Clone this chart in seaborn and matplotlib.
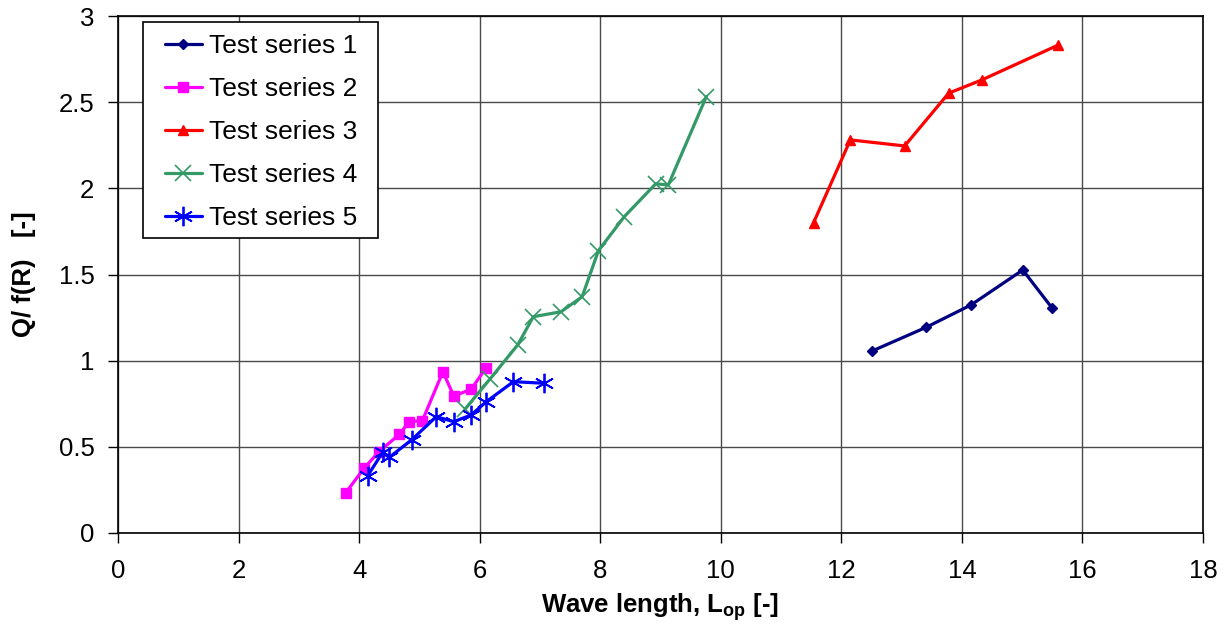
import matplotlib
matplotlib.use("Agg")
import matplotlib.pyplot as plt
from matplotlib.patches import Rectangle
import seaborn as sns
import pandas as pd

# ---- data ----
s1_x = [12.51, 13.41, 14.15, 15.01, 15.50]
s1_y = [1.056, 1.194, 1.323, 1.526, 1.304]

s2_x = [3.78, 4.08, 4.33, 4.67, 4.83, 5.05, 5.39, 5.57, 5.86, 6.10]
s2_y = [0.234, 0.375, 0.472, 0.573, 0.646, 0.652, 0.936, 0.795, 0.834, 0.956]

s3_x = [11.54, 12.15, 13.05, 13.78, 14.33, 15.59]
s3_y = [1.801, 2.281, 2.246, 2.552, 2.629, 2.830]

s4_x = [5.76, 6.17, 6.63, 6.89, 7.35, 7.70, 7.97, 8.40, 8.92, 9.13, 9.76]
s4_y = [0.720, 0.893, 1.091, 1.255, 1.284, 1.371, 1.638, 1.836, 2.026, 2.020, 2.532]

s5_x = [4.14, 4.39, 4.50, 4.87, 5.28, 5.57, 5.86, 6.11, 6.56, 7.07]
s5_y = [0.331, 0.468, 0.439, 0.540, 0.675, 0.646, 0.685, 0.762, 0.878, 0.869]

labels = ["Test series 1", "Test series 2", "Test series 3", "Test series 4", "Test series 5"]
x_ticks = [0, 2, 4, 6, 8, 10, 12, 14, 16, 18]
y_ticks = [0, 0.5, 1, 1.5, 2, 2.5, 3]
y_tick_labels = ["0", "0.5", "1", "1.5", "2", "2.5", "3"]

sns.set_theme(style="white")
plt.rcParams["font.family"] = ["Liberation Sans", "DejaVu Sans"]
plt.rcParams["mathtext.fontset"] = "custom"
plt.rcParams["mathtext.rm"] = "Liberation Sans"
plt.rcParams["mathtext.bf"] = "Liberation Sans:bold"
plt.rcParams["text.color"] = "black"
plt.rcParams["axes.labelcolor"] = "black"
plt.rcParams["xtick.color"] = "black"
plt.rcParams["ytick.color"] = "black"

fig = plt.figure(figsize=(12.3, 6.27), dpi=100)
ax = fig.add_axes([118 / 1230, 1 - 533 / 627, (1203 - 118) / 1230, (533 - 16) / 627])

series = [
    (s1_x, s1_y, "#000080", "D", 5, 1.0),
    (s2_x, s2_y, "#FF00FF", "s", 7, 1.0),
    (s3_x, s3_y, "#FF0000", "^", 7, 1.0),
    (s4_x, s4_y, "#339966", "x", 11, 1.2),
    (s5_x, s5_y, "#0000FF", (6, 2, 0), 14, 1.3),
]

for (xs, ys, col, mk, ms, mew), lab in zip(series, labels):
    df = pd.DataFrame({"x": xs, "y": ys})
    sns.lineplot(data=df, x="x", y="y", ax=ax, sort=False, color=col, marker=mk,
                 markersize=ms, markeredgewidth=mew, markeredgecolor=col,
                 markerfacecolor=col, linewidth=2.3, label=lab)

ax.set_xlim(0, 18)
ax.set_ylim(0, 3)
ax.set_xticks(x_ticks)
ax.set_xticklabels([str(t) for t in x_ticks])
ax.set_yticks(y_ticks)
ax.set_yticklabels(y_tick_labels)
ax.grid(True, color="#4a4a4a", linewidth=1.0)
ax.set_axisbelow(True)
for sp in ax.spines.values():
    sp.set_visible(True)
    sp.set_color("black")
    sp.set_linewidth(1.2)

ax.tick_params(axis="both", which="major", labelsize=18.5, direction="out",
               length=7, width=1, color="black", bottom=True, left=True,
               labelcolor="black")
ax.tick_params(axis="x", pad=12)
ax.tick_params(axis="y", pad=10)

ax.set_xlabel(r"Wave length, $\mathbf{L_{op}}$ [-]", fontsize=18.5, fontweight="bold",
              labelpad=6, color="black")
ax.set_ylabel("Q/ f(R)   [-]", fontsize=18.5, fontweight="bold", labelpad=16, color="black")

# legend frame (box) drawn separately, entries placed inside it
ax.add_patch(Rectangle((25 / 1085, (533 - 238) / 517), (378 - 143) / 1085, (238 - 22) / 517,
                       transform=ax.transAxes, facecolor="white", edgecolor="black",
                       linewidth=1.2, zorder=4.5, clip_on=False))
leg = ax.legend(loc="upper left", bbox_to_anchor=((165 - 118) / 1085, (533 - 34) / 517),
                borderaxespad=0, borderpad=0, fontsize=19, frameon=False,
                handlelength=1.4, handletextpad=0.28, labelspacing=0.72)
leg.set_zorder(5)
for t in leg.get_texts():
    t.set_color("black")

fig.savefig("out.png", dpi=100)
